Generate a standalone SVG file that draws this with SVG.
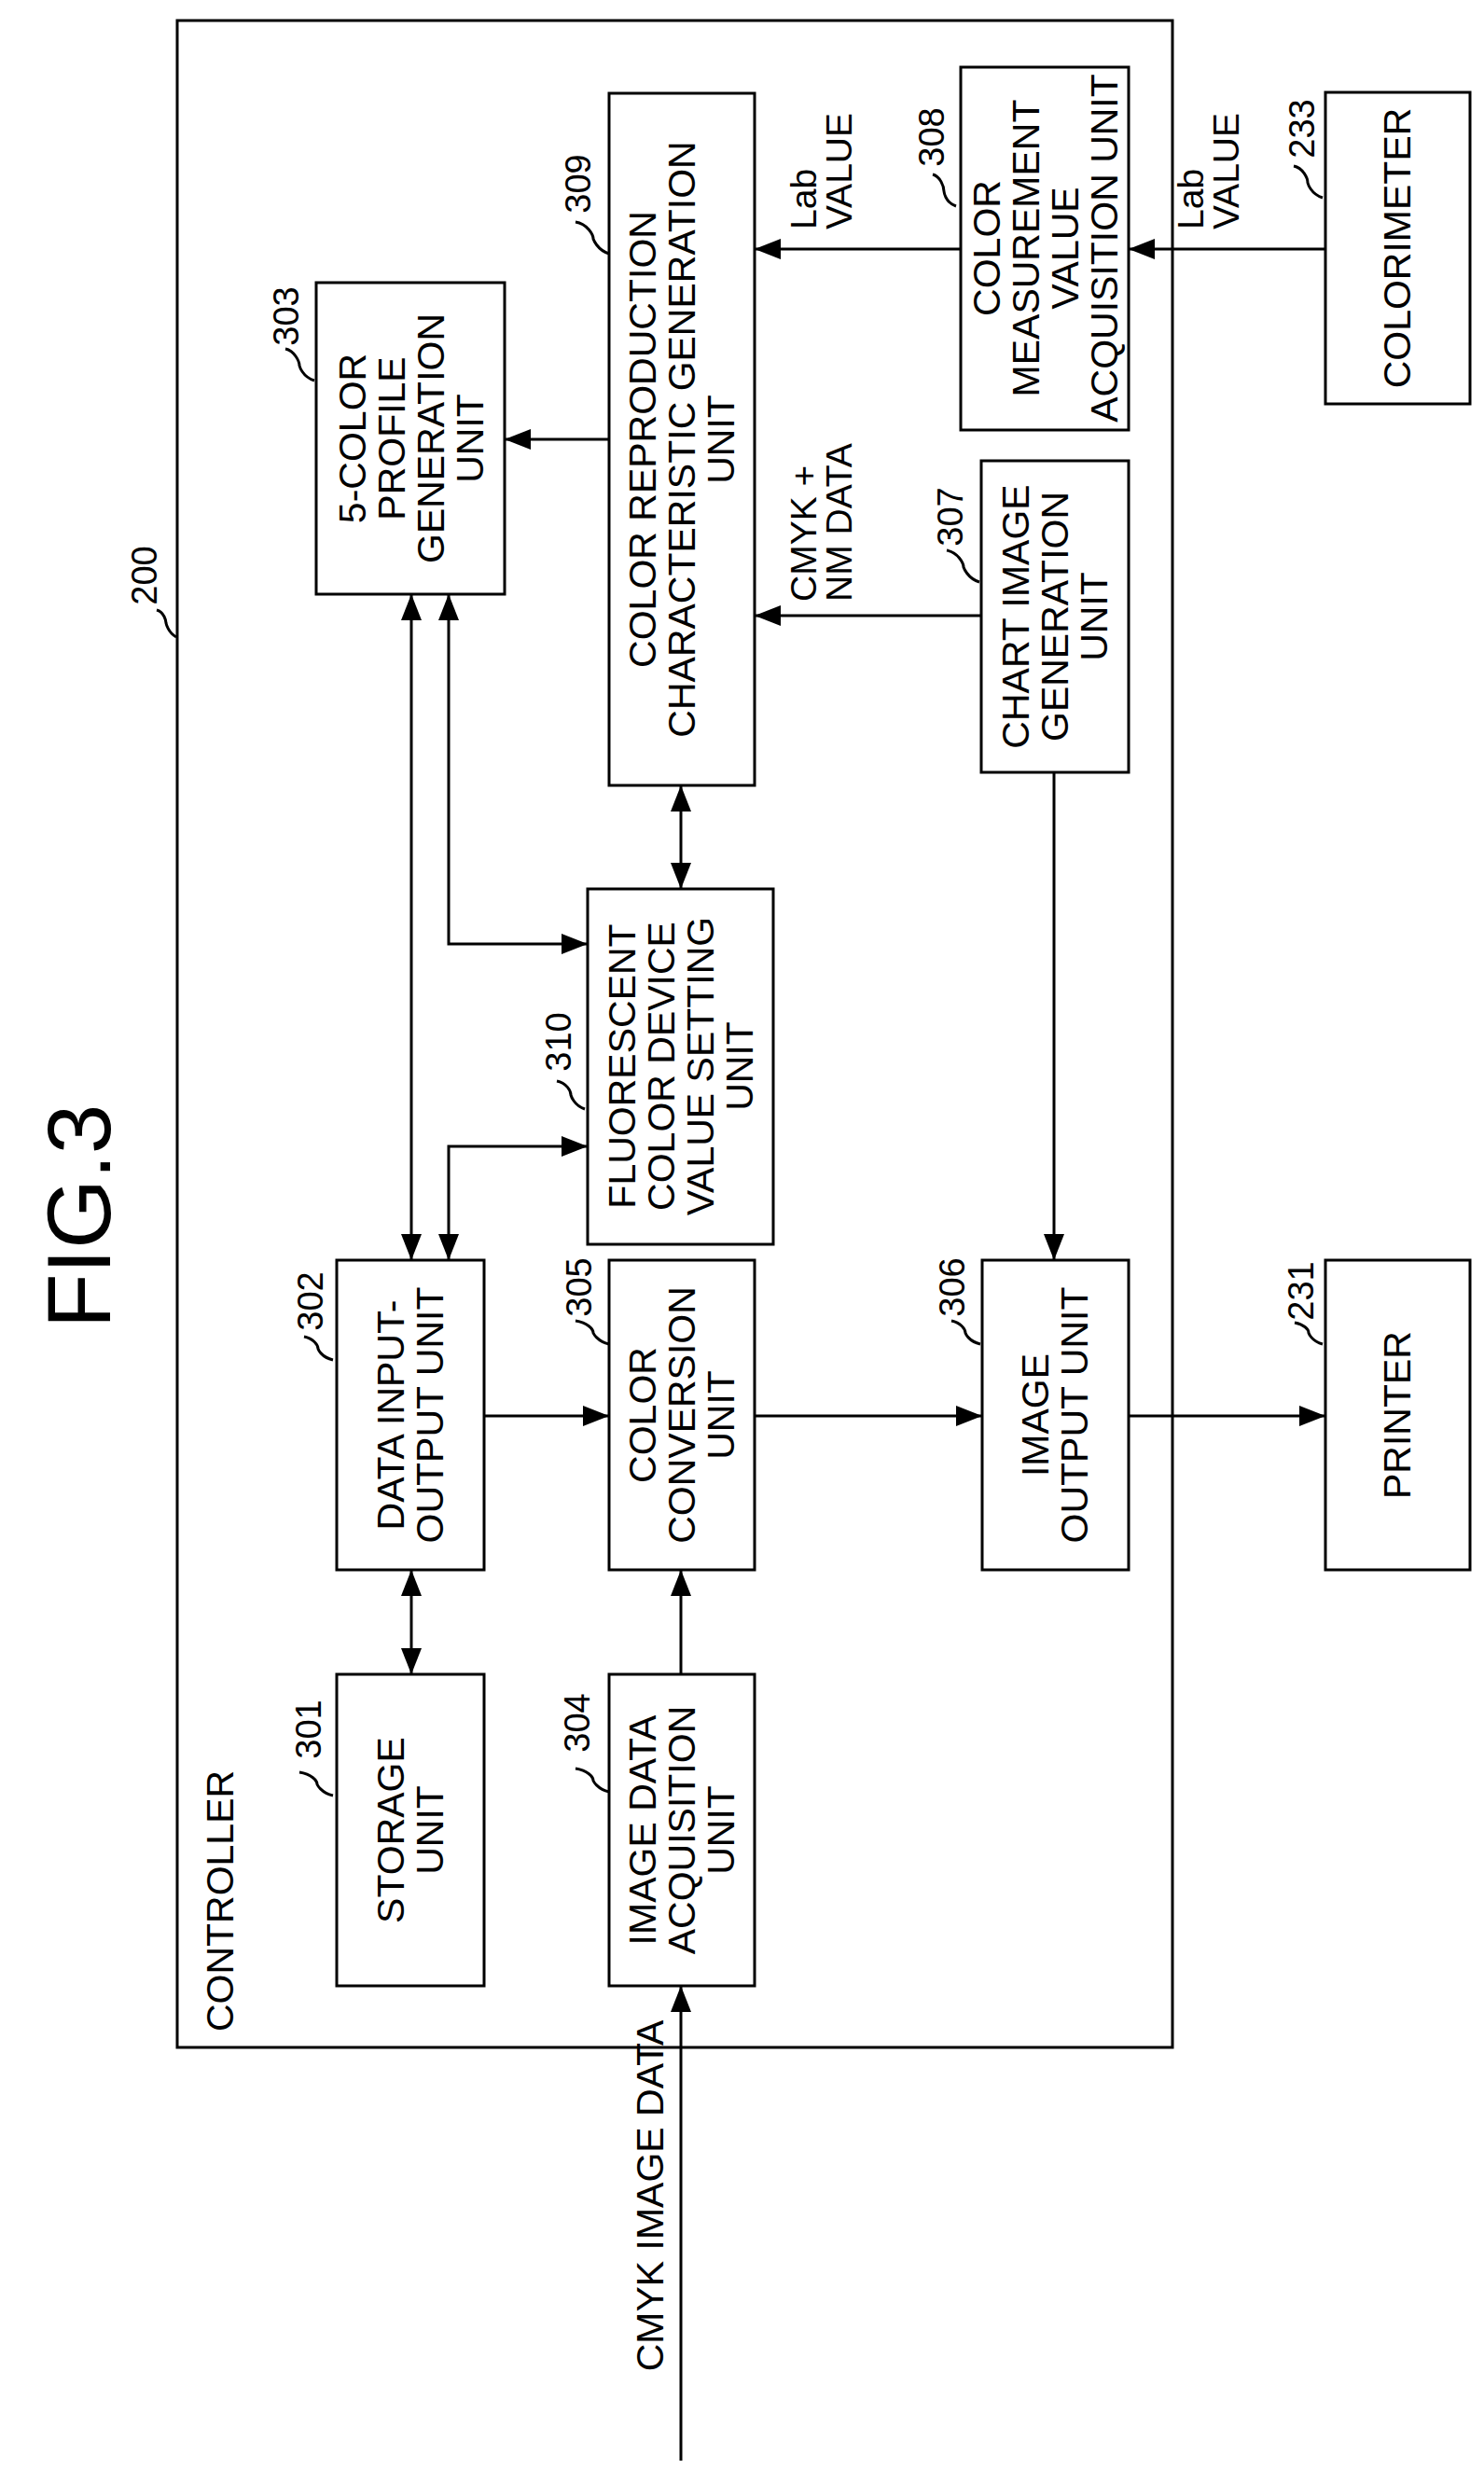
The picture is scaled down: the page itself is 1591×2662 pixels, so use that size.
<svg xmlns="http://www.w3.org/2000/svg" width="1591" height="2662" viewBox="0 0 1591 2662">
<style>
text{font-family:"Liberation Sans",Arial,sans-serif;fill:#000}
.t{font-size:41px;text-anchor:middle}
.l{font-size:39px}
.n{font-size:38px}
.b{fill:#fff;stroke:#000;stroke-width:3}
.c{fill:none;stroke:#000;stroke-width:3}
</style>
<defs>
<marker id="a" markerUnits="userSpaceOnUse" markerWidth="30" markerHeight="24" refX="28" refY="12" orient="auto-start-reverse"><path d="M0,1 L28,12 L0,23 Z" fill="#000"/></marker>
</defs>
<text x="0" y="0" transform="translate(118,1304) rotate(-90)" style="font-size:96px;text-anchor:middle">FIG.3</text>
<g id="controller">
<rect x="190" y="22" width="1067" height="2173" class="c"/>
<text class="t" transform="translate(250,2038) rotate(-90)">CONTROLLER</text>
<text class="n" transform="translate(168,617) rotate(-90)" text-anchor="middle">200</text>
<path class="c" stroke-width="2" d="M189,683 C180,678 178,668 178,668 C178,666 176,656 168,654"/>
</g>
<g id="n309"><rect class="b" x="653" y="100" width="156" height="742"/>
<text class="t" transform="translate(731,471) rotate(-90)"><tspan x="0" y="-28">COLOR REPRODUCTION</tspan><tspan x="0" y="14">CHARACTERISTIC GENERATION</tspan><tspan x="0" y="56">UNIT</tspan></text>
<text class="n" transform="translate(633,197) rotate(-90)" text-anchor="middle">309</text>
<path class="c" stroke-width="2" d="M653,272 C640,268 636,256 636,256 C636,252 630,240 617,238"/></g>
<g id="n303"><rect class="b" x="339" y="303" width="202" height="334"/>
<text class="t" transform="translate(440,470) rotate(-90)"><tspan x="0" y="-48">5-COLOR</tspan><tspan x="0" y="-6">PROFILE</tspan><tspan x="0" y="36">GENERATION</tspan><tspan x="0" y="78">UNIT</tspan></text>
<text class="n" transform="translate(320,339) rotate(-90)" text-anchor="middle">303</text>
<path class="c" stroke-width="2" d="M337,408 C324,404 321,392 321,392 C321,388 316,376 306,374"/></g>
<g id="n308"><rect class="b" x="1030" y="72" width="180" height="389"/>
<text class="t" transform="translate(1120,266) rotate(-90)"><tspan x="0" y="-48">COLOR</tspan><tspan x="0" y="-6">MEASUREMENT</tspan><tspan x="0" y="36">VALUE</tspan><tspan x="0" y="78">ACQUISITION UNIT</tspan></text>
<text class="n" transform="translate(1012,147) rotate(-90)" text-anchor="middle">308</text>
<path class="c" stroke-width="2" d="M1025,221 C1013,217 1012,205 1012,205 C1012,200 1008,189 1000,187"/></g>
<g id="n233"><rect class="b" x="1421" y="99" width="155" height="334"/>
<text class="t" transform="translate(1498,266) rotate(-90)"><tspan x="0" y="14">COLORIMETER</tspan></text>
<text class="n" transform="translate(1409,138) rotate(-90)" text-anchor="middle">233</text>
<path class="c" stroke-width="2" d="M1418,212 C1405,208 1402,196 1402,196 C1402,191 1397,180 1387,178"/></g>
<g id="n307"><rect class="b" x="1052" y="494" width="158" height="334"/>
<text class="t" transform="translate(1131,661) rotate(-90)"><tspan x="0" y="-28">CHART IMAGE</tspan><tspan x="0" y="14">GENERATION</tspan><tspan x="0" y="56">UNIT</tspan></text>
<text class="n" transform="translate(1032,554) rotate(-90)" text-anchor="middle">307</text>
<path class="c" stroke-width="2" d="M1050,624 C1037,620 1033,608 1033,608 C1033,604 1027,592 1015,590"/></g>
<g id="n310"><rect class="b" x="630" y="953" width="199" height="381"/>
<text class="t" transform="translate(729,1143) rotate(-90)"><tspan x="0" y="-48">FLUORESCENT</tspan><tspan x="0" y="-6">COLOR DEVICE</tspan><tspan x="0" y="36">VALUE SETTING</tspan><tspan x="0" y="78">UNIT</tspan></text>
<text class="n" transform="translate(612,1117) rotate(-90)" text-anchor="middle">310</text>
<path class="c" stroke-width="2" d="M627,1189 C615,1185 612,1174 612,1174 C612,1169 607,1161 597,1159"/></g>
<g id="n302"><rect class="b" x="361" y="1351" width="158" height="332"/>
<text class="t" transform="translate(440,1517) rotate(-90)"><tspan x="0" y="-7">DATA INPUT-</tspan><tspan x="0" y="35">OUTPUT UNIT</tspan></text>
<text class="n" transform="translate(346,1395) rotate(-90)" text-anchor="middle">302</text>
<path class="c" stroke-width="2" d="M357,1458 C344,1455 341,1446 341,1446 C341,1442 336,1435 326,1433"/></g>
<g id="n305"><rect class="b" x="653" y="1351" width="156" height="332"/>
<text class="t" transform="translate(731,1517) rotate(-90)"><tspan x="0" y="-28">COLOR</tspan><tspan x="0" y="14">CONVERSION</tspan><tspan x="0" y="56">UNIT</tspan></text>
<text class="n" transform="translate(634,1380) rotate(-90)" text-anchor="middle">305</text>
<path class="c" stroke-width="2" d="M653,1441 C640,1438 636,1429 636,1429 C636,1425 630,1418 617,1416"/></g>
<g id="n306"><rect class="b" x="1053" y="1351" width="157" height="332"/>
<text class="t" transform="translate(1131,1517) rotate(-90)"><tspan x="0" y="-7">IMAGE</tspan><tspan x="0" y="35">OUTPUT UNIT</tspan></text>
<text class="n" transform="translate(1034,1380) rotate(-90)" text-anchor="middle">306</text>
<path class="c" stroke-width="2" d="M1051,1441 C1038,1438 1035,1429 1035,1429 C1035,1425 1030,1418 1020,1416"/></g>
<g id="n231"><rect class="b" x="1421" y="1351" width="155" height="332"/>
<text class="t" transform="translate(1498,1517) rotate(-90)"><tspan x="0" y="14">PRINTER</tspan></text>
<text class="n" transform="translate(1408,1384) rotate(-90)" text-anchor="middle">231</text>
<path class="c" stroke-width="2" d="M1418,1441 C1406,1438 1403,1429 1403,1429 C1403,1425 1398,1420 1388,1418"/></g>
<g id="n301"><rect class="b" x="361" y="1795" width="158" height="334"/>
<text class="t" transform="translate(440,1962) rotate(-90)"><tspan x="0" y="-7">STORAGE</tspan><tspan x="0" y="35">UNIT</tspan></text>
<text class="n" transform="translate(344,1854) rotate(-90)" text-anchor="middle">301</text>
<path class="c" stroke-width="2" d="M357,1925 C344,1922 340,1913 340,1913 C340,1909 334,1902 321,1900"/></g>
<g id="n304"><rect class="b" x="653" y="1795" width="156" height="334"/>
<text class="t" transform="translate(731,1962) rotate(-90)"><tspan x="0" y="-28">IMAGE DATA</tspan><tspan x="0" y="14">ACQUISITION</tspan><tspan x="0" y="56">UNIT</tspan></text>
<text class="n" transform="translate(632,1847) rotate(-90)" text-anchor="middle">304</text>
<path class="c" stroke-width="2" d="M653,1921 C640,1918 636,1909 636,1909 C636,1905 630,1898 617,1896"/></g>
<g id="connectors">
<path class="c" d="M653,471 H541" marker-end="url(#a)"/>
<path class="c" d="M1030,267 H809" marker-end="url(#a)"/>
<path class="c" d="M1421,267 H1210" marker-end="url(#a)"/>
<path class="c" d="M1052,660 H809" marker-end="url(#a)"/>
<path class="c" d="M730,842 V953" marker-start="url(#a)" marker-end="url(#a)"/>
<path class="c" d="M441,637 V1351" marker-start="url(#a)" marker-end="url(#a)"/>
<path class="c" d="M481,637 V1012 H630" marker-start="url(#a)" marker-end="url(#a)"/>
<path class="c" d="M481,1351 V1229 H630" marker-start="url(#a)" marker-end="url(#a)"/>
<path class="c" d="M1130,828 V1351" marker-end="url(#a)"/>
<path class="c" d="M519,1518 H653" marker-end="url(#a)"/>
<path class="c" d="M809,1518 H1053" marker-end="url(#a)"/>
<path class="c" d="M1210,1518 H1421" marker-end="url(#a)"/>
<path class="c" d="M441,1683 V1795" marker-start="url(#a)" marker-end="url(#a)"/>
<path class="c" d="M730,1795 V1683" marker-end="url(#a)"/>
<path class="c" d="M730,2638 V2129" marker-end="url(#a)"/>
<text class="l" transform="translate(875,246) rotate(-90)"><tspan x="0" y="0">Lab</tspan><tspan x="0" y="38">VALUE</tspan></text>
<text class="l" transform="translate(1290,246) rotate(-90)"><tspan x="0" y="0">Lab</tspan><tspan x="0" y="38">VALUE</tspan></text>
<text class="l" transform="translate(875,645) rotate(-90)"><tspan x="0" y="0">CMYK +</tspan><tspan x="0" y="38">NM DATA</tspan></text>
<text class="t" transform="translate(711,2354) rotate(-90)">CMYK IMAGE DATA</text>
</g>
</svg>
